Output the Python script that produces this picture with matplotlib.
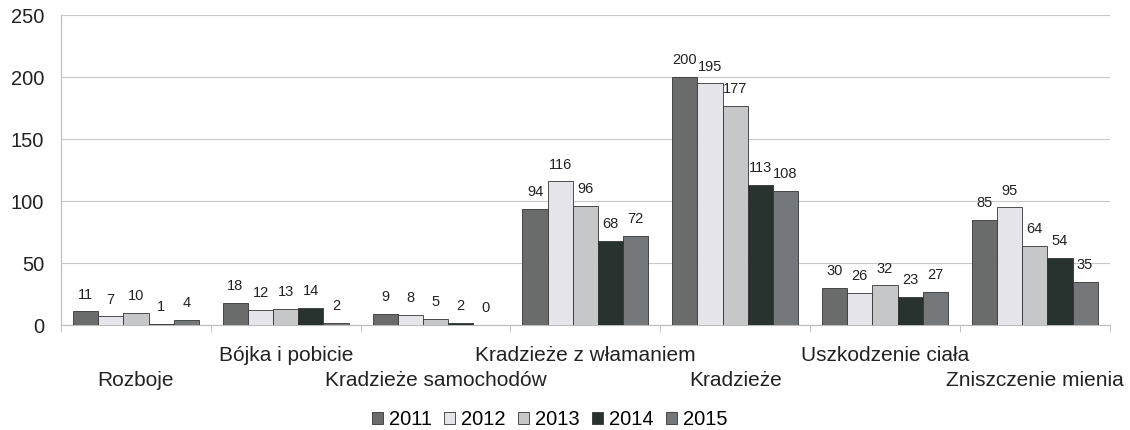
import numpy as np
import matplotlib
matplotlib.use("Agg")
import matplotlib.pyplot as plt

categories = ["Rozboje", "Bójka i pobicie", "Kradzieże samochodów",
              "Kradzieże z włamaniem", "Kradzieże", "Uszkodzenie ciała",
              "Zniszczenie mienia"]
years = ["2011", "2012", "2013", "2014", "2015"]
v2011 = [11, 18, 9, 94, 200, 30, 85]
v2012 = [7, 12, 8, 116, 195, 26, 95]
v2013 = [10, 13, 5, 96, 177, 32, 64]
v2014 = [1, 14, 2, 68, 113, 23, 54]
v2015 = [4, 2, 0, 72, 108, 27, 35]
series = [v2011, v2012, v2013, v2014, v2015]
colors = ["#6a6c6b", "#e4e4ea", "#c6c7c8", "#28322e", "#75787a"]

plt.rcParams['font.family'] = ['Liberation Sans', 'DejaVu Sans']
fig = plt.figure(figsize=(11.3, 4.3), dpi=100)
ax = fig.add_axes([0.054, 0.244, 0.928, 0.721])

x = np.arange(len(categories))
w = 0.168
for i, (s, c) in enumerate(zip(series, colors)):
    pos = x + (i - 2) * w
    ax.bar(pos, s, w, color=c, edgecolor="#333333", linewidth=0.6,
           label=years[i], zorder=3)
    for p, v in zip(pos, s):
        ax.annotate(str(v), xy=(p, v), xytext=(0, 7), textcoords="offset points",
                    ha="center", va="bottom", fontsize=10.5,
                    color="#222222", zorder=4)

ax.set_xlim(-0.5, len(categories) - 0.5)
ax.set_ylim(0, 250)
ax.set_yticks([0, 50, 100, 150, 200, 250])
ax.tick_params(axis="y", length=0, labelsize=14.5, pad=12, colors="#222222")
ax.yaxis.grid(True, color="#c8c8c8", linewidth=0.8, zorder=0)
for sp in ["top", "right"]:
    ax.spines[sp].set_visible(False)
ax.spines["left"].set_color("#bbbbbb")
ax.spines["bottom"].set_color("#bbbbbb")

# category boundaries as minor ticks, staggered labels
ax.set_xticks(np.arange(len(categories) + 1) - 0.5, minor=True)
ax.tick_params(axis="x", which="minor", length=5, color="#bbbbbb")
ax.set_xticks(x)
ax.set_xticklabels([])
ax.tick_params(axis="x", which="major", length=0)
for i, name in enumerate(categories):
    yoff = -40 if i % 2 == 0 else -22
    ax.annotate(name, xy=(i, 0), xytext=(0, yoff), textcoords="offset points",
                xycoords=("data", "axes fraction"), ha="center", va="center",
                fontsize=15, color="#222222")

ax.legend(loc="center", bbox_to_anchor=(0.466, -0.305), ncol=5,
          frameon=False, fontsize=14.5, handlelength=0.55, handleheight=0.55,
          handletextpad=0.3, columnspacing=0.6, borderaxespad=0)

fig.savefig("out.png", dpi=100)
